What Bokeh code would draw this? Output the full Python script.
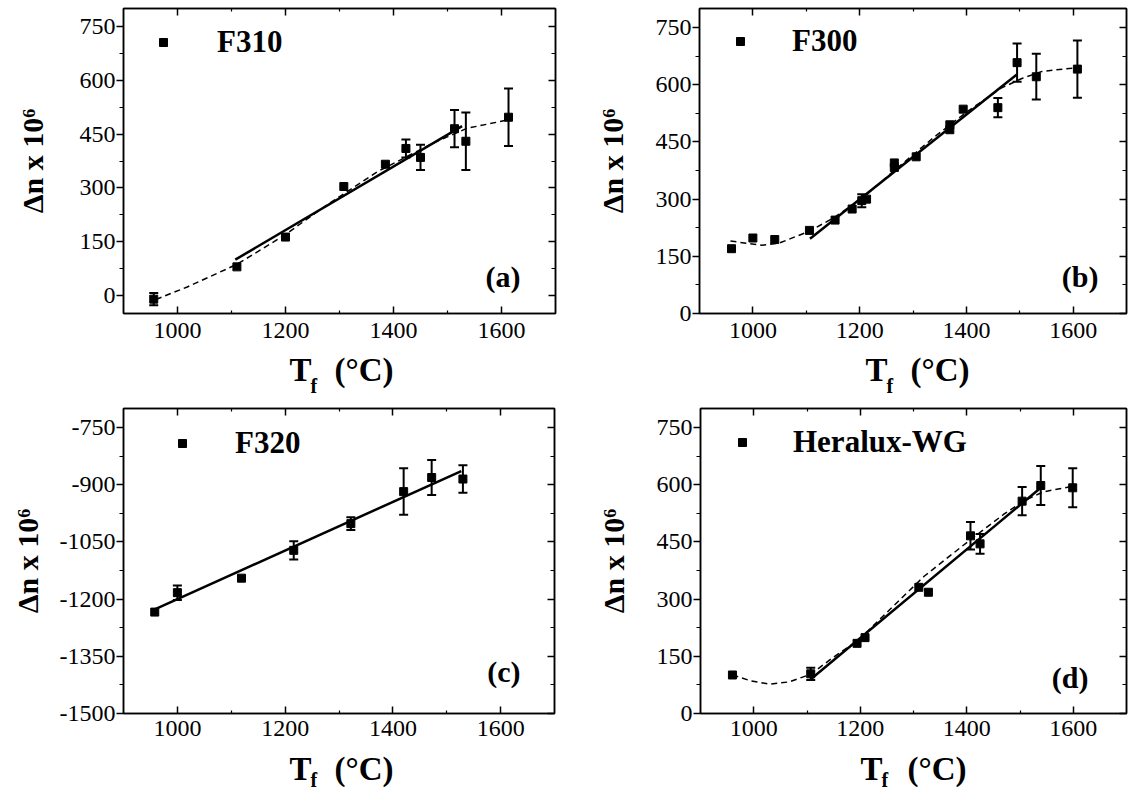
from bokeh.plotting import figure
from bokeh.models import (ColumnDataSource, Whisker, TeeHead, Label, Legend, LegendItem,
                          FixedTicker, LinearAxis, Range1d, CustomLabelingPolicy)
from bokeh.core.properties import value
from bokeh.layouts import column, row
from bokeh.embed import file_html
from bokeh.resources import INLINE

FONT = "Liberation Serif"

# ---------------- data ----------------
# (a) F310
a_x = [956, 1110, 1200, 1308, 1385, 1423, 1450, 1513, 1534, 1613]
a_y = [-10, 80, 163, 304, 366, 410, 385, 465, 430, 497]
a_err = [17, 0, 0, 0, 0, 25, 35, 52, 80, 80]
a_fit_x = [1107, 1527]
a_fit_y = [100, 472]
a_dash_x = [960, 1018, 1110, 1197, 1277, 1370, 1475, 1536, 1604, 1615]
a_dash_y = [-11, 24, 87, 167, 253, 345, 426, 466, 487, 490]

# (b) F300
b_x = [960, 1000, 1041, 1106, 1154, 1186, 1204, 1213, 1265, 1265, 1306, 1369, 1369, 1394, 1459, 1495, 1531, 1608]
b_y = [170, 198, 194, 218, 245, 274, 296, 300, 395, 383, 411, 495, 482, 536, 540, 658, 621, 641]
b_err = [0, 0, 0, 0, 0, 0, 17, 0, 0, 0, 0, 0, 0, 0, 25, 50, 60, 75]
b_fit_x = [1107, 1494]
b_fit_y = [196, 626]
b_dash_x = [958, 1017, 1050, 1106, 1149, 1204, 1265, 1339, 1400, 1465, 1505, 1542, 1608]
b_dash_y = [190, 179, 185, 216, 249, 301, 375, 462, 528, 591, 617, 635, 645]

# (c) F320
c_x = [958, 1000, 1119, 1216, 1322, 1420, 1472, 1530]
c_y = [-1234, -1183, -1145, -1072, -1002, -918, -881, -885]
c_err = [0, 19, 0, 24, 17, 61, 46, 36]
c_fit_x = [958, 1527]
c_fit_y = [-1227, -864]

# (d) Heralux-WG
d_x = [960, 1107, 1194, 1209, 1310, 1328, 1407, 1425, 1504, 1539, 1599]
d_y = [101, 104, 184, 199, 331, 318, 466, 445, 557, 598, 592]
d_err = [0, 16, 0, 0, 0, 0, 36, 26, 37, 51, 51]
d_fit_x = [1107, 1539]
d_fit_y = [90, 592]
d_dash_x = [960, 996, 1030, 1067, 1107, 1147, 1197, 1258, 1320, 1407, 1469, 1506, 1543, 1599]
d_dash_y = [101, 85, 77, 83, 103, 145, 193, 276, 360, 456, 522, 557, 581, 596]

# ticks
x_major = [1000, 1200, 1400, 1600]
x_minor = [1100, 1300, 1500]
y_major_pos = [0, 150, 300, 450, 600, 750]
y_minor_pos = [75, 225, 375, 525, 675]
y_major_neg = [-1500, -1350, -1200, -1050, -900, -750]
y_minor_neg = [-1425, -1275, -1125, -975, -825]

Y_TITLE = "\u0394n x 10\u2076"
X_TITLE = ["T", "f", "(\u00b0C)"]


def style_axis(ax, labels=True):
    ax.axis_line_color = "black"
    ax.axis_line_width = 1.5
    ax.major_tick_line_color = "black"
    ax.minor_tick_line_color = "black"
    ax.major_tick_line_width = 1.5
    ax.minor_tick_line_width = 1.2
    if labels:
        ax.major_label_text_font = FONT
        ax.major_label_text_font_size = "24px"
        ax.major_label_text_color = "black"
    else:
        ax.major_label_text_font_size = "1px"
        ax.major_label_standoff = 0
        ax.major_label_policy = CustomLabelingPolicy(code="return []")


def make_panel(name, letter, xs, ys, errs, fit_x, fit_y, dash_x, dash_y,
               ylim, ymajor, yminor, width, height, border_left, border_bottom,
               ylabel_standoff, xlabel_standoff, legend_loc, legend_standoff,
               letter_pos):
    p = figure(width=width, height=height, x_range=Range1d(900, 1700),
               y_range=Range1d(*ylim), output_backend="svg",
               toolbar_location=None, min_border_left=border_left,
               min_border_right=4, min_border_top=8,
               min_border_bottom=border_bottom,
               x_axis_location=None, y_axis_location=None)
    p.xgrid.visible = False
    p.ygrid.visible = False
    p.outline_line_color = "black"
    p.outline_line_width = 1.5
    p.background_fill_color = "white"
    p.border_fill_color = "white"

    xt = FixedTicker(ticks=x_major, minor_ticks=x_minor)
    yt = FixedTicker(ticks=ymajor, minor_ticks=yminor)

    bottom = LinearAxis(ticker=xt)
    style_axis(bottom)
    bottom.major_tick_in = 7
    bottom.major_tick_out = 0
    bottom.minor_tick_in = 3
    bottom.minor_tick_out = 0
    bottom.major_label_standoff = xlabel_standoff
    p.add_layout(bottom, "below")

    top = LinearAxis(ticker=xt)
    style_axis(top, labels=False)
    top.major_tick_in = 7
    top.major_tick_out = 0
    top.minor_tick_in = 3
    top.minor_tick_out = 0
    p.add_layout(top, "above")

    left = LinearAxis(ticker=yt, axis_label=Y_TITLE)
    style_axis(left)
    left.major_tick_in = 0
    left.major_tick_out = 7
    left.minor_tick_in = 0
    left.minor_tick_out = 4
    left.major_label_standoff = 1
    left.major_label_overrides = {v: str(v) for v in ymajor}
    left.axis_label_text_font = FONT
    left.axis_label_text_font_style = "bold"
    left.axis_label_text_font_size = "30px"
    left.axis_label_text_color = "black"
    left.axis_label_standoff = ylabel_standoff
    p.add_layout(left, "left")

    right = LinearAxis(ticker=yt)
    style_axis(right, labels=False)
    right.major_tick_in = 7
    right.major_tick_out = 0
    right.minor_tick_in = 4
    right.minor_tick_out = 0
    p.add_layout(right, "right")

    if dash_x is not None:
        p.line(dash_x, dash_y, line_color="black", line_width=1.5, line_dash="6 4")
    p.line(fit_x, fit_y, line_color="black", line_width=2.5)

    src = ColumnDataSource(dict(x=xs, y=ys))
    ex = [x for x, e in zip(xs, errs) if e > 0]
    elo = [y - e for y, e in zip(ys, errs) if e > 0]
    ehi = [y + e for y, e in zip(ys, errs) if e > 0]
    esrc = ColumnDataSource(dict(x=ex, lo=elo, hi=ehi))
    w = Whisker(source=esrc, base="x", lower="lo", upper="hi",
                line_color="black", line_width=2,
                lower_head=TeeHead(size=9, line_width=2, line_color="black"),
                upper_head=TeeHead(size=9, line_width=2, line_color="black"))
    p.add_layout(w)
    r = p.scatter("x", "y", source=src, marker="square", size=8,
                  fill_color="black", line_color="black")

    legend = Legend(items=[LegendItem(label=name, renderers=[r])],
                    location=legend_loc, orientation="vertical",
                    glyph_width=20, glyph_height=36, label_height=36,
                    label_standoff=legend_standoff, padding=0, margin=0,
                    spacing=0, border_line_color=None,
                    background_fill_alpha=0,
                    label_text_font=FONT, label_text_font_style="bold",
                    label_text_font_size="31px", label_text_color="black")
    p.add_layout(legend)

    p.add_layout(Label(x=letter_pos[0], y=letter_pos[1], x_units="screen",
                       y_units="screen", text=letter, text_align="right",
                       text_baseline="middle", text_font=FONT,
                       text_font_style="bold", text_font_size="30px",
                       text_color="black"))
    return p


def make_xtitle(width, height, tx, fx, px, ty, fy):
    """Strip below a panel holding the x-axis title T_f (°C) (positions in pixels)."""
    s = figure(width=width, height=height, x_range=Range1d(0, width),
               y_range=Range1d(0, height), output_backend="svg",
               toolbar_location=None, min_border=0,
               x_axis_location=None, y_axis_location=None)
    s.xgrid.visible = False
    s.ygrid.visible = False
    s.outline_line_color = None
    s.background_fill_color = "white"
    s.border_fill_color = "white"
    s.text(x=[tx, px], y=[ty, ty], text=[X_TITLE[0], X_TITLE[2]],
           text_font=value(FONT), text_font_style="bold", text_font_size="33px",
           text_color="black", text_baseline="middle", text_align="left")
    s.text(x=[fx], y=[fy], text=[X_TITLE[1]],
           text_font=value(FONT), text_font_style="bold", text_font_size="20px",
           text_color="black", text_baseline="middle", text_align="left")
    return s


# widths: a/c 560, b/d 571 -> 1131 total; heights: 350+50 / 345+46 -> 791
pa = make_panel("F310", "(a)", a_x, a_y, a_err, a_fit_x, a_fit_y, a_dash_x, a_dash_y,
                (-50, 800), y_major_pos, y_minor_pos, 560, 350, 123, 37, 28, 9,
                (30, 253), 44, (397, 37))
pb = make_panel("F300", "(b)", b_x, b_y, b_err, b_fit_x, b_fit_y, b_dash_x, b_dash_y,
                (0, 800), y_major_pos, y_minor_pos, 571, 350, 139, 37, 24, 9,
                (31, 254), 42, (399, 37))
pc = make_panel("F320", "(c)", c_x, c_y, c_err, c_fit_x, c_fit_y, None, None,
                (-1500, -700), y_major_neg, y_minor_neg, 560, 345, 123, 32, 13, 7,
                (49, 252), 43, (397, 42))
pd_ = make_panel("Heralux-WG", "(d)", d_x, d_y, d_err, d_fit_x, d_fit_y, d_dash_x, d_dash_y,
                 (0, 800), y_major_pos, y_minor_pos, 571, 345, 140, 32, 24, 7,
                 (32, 253), 41, (388, 36))

ta = make_xtitle(560, 50, 289, 310, 334, 31, 15)
tb = make_xtitle(571, 50, 305, 326, 350, 31, 15)
tc = make_xtitle(560, 46, 289, 310, 334, 23, 12)
td = make_xtitle(571, 46, 300, 321, 347, 23, 12)

layout = column(row(pa, pb), row(ta, tb), row(pc, pd_), row(tc, td))
open("out.html", "w").write(file_html(layout, INLINE))
